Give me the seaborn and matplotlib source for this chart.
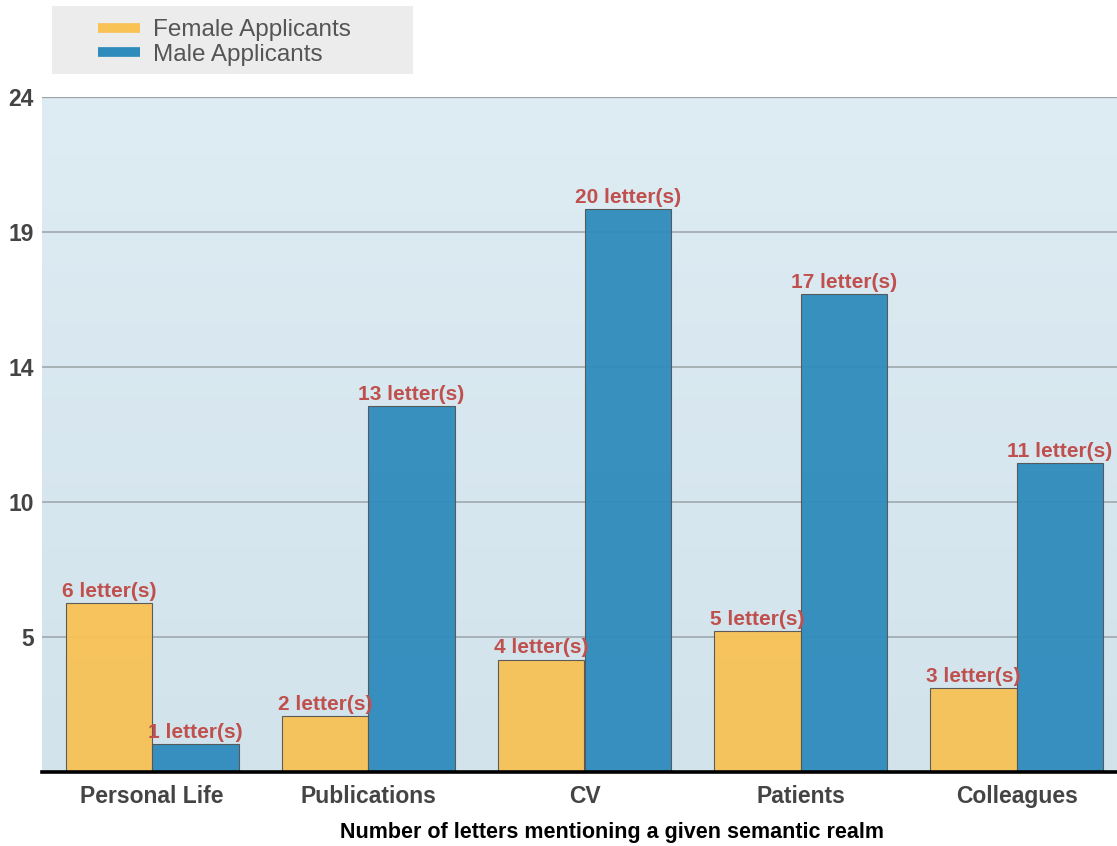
import numpy as np
import pandas as pd
import matplotlib
matplotlib.use("Agg")
import matplotlib.pyplot as plt
import seaborn as sns
from matplotlib.lines import Line2D
from matplotlib.patches import Rectangle
from matplotlib.colors import LinearSegmentedColormap

categories = ["Personal Life", "Publications", "CV", "Patients", "Colleagues"]
female_values = [6, 2, 4, 5, 3]
male_values = [1, 13, 20, 17, 11]
series_names = ["Female Applicants", "Male Applicants"]
ytick_values = [4.8, 9.6, 14.4, 19.2, 24]
ytick_labels = ["5", "10", "14", "19", "24"]
x_label = "Number of letters mentioning a given semantic realm"

colors = {"Female Applicants": "#f8c255", "Male Applicants": "#2e8bbc"}

df = pd.DataFrame({
    "category": categories * 2,
    "series": [series_names[0]] * len(categories) + [series_names[1]] * len(categories),
    "value": female_values + male_values,
})

sns.set_theme(style="white")
plt.rcParams["font.family"] = ["Liberation Sans", "DejaVu Sans"]

fig = plt.figure(figsize=(11.17, 8.46), dpi=100)
ax = fig.add_axes([42 / 1117, 1 - 772 / 846, (1127 - 42) / 1117, (772 - 97) / 846])

# background gradient
grad = np.linspace(0, 1, 256).reshape(-1, 1)
cmap = LinearSegmentedColormap.from_list("bg", ["#deecf3", "#d2e3ec"])
ax.imshow(grad, extent=[0, 1, 0, 1], transform=ax.transAxes, cmap=cmap,
          aspect="auto", zorder=0, origin="upper")

sns.barplot(data=df, x="category", y="value", hue="series", palette=colors,
            width=0.8, ax=ax, order=categories, hue_order=series_names,
            legend=False, saturation=1, alpha=0.95, edgecolor="#555555",
            linewidth=0.8, zorder=3)

ax.set_xlim(-0.51, 4.51)
ax.set_ylim(0, 24)
ax.set_yticks(ytick_values)
ax.set_yticklabels(ytick_labels)
for y in ytick_values:
    ax.axhline(y, color="#9aa3a8", lw=1.1 if y < 24 else 1.6, zorder=1)

for sp in ["left", "right", "top"]:
    ax.spines[sp].set_visible(False)
ax.spines["bottom"].set_color("black")
ax.spines["bottom"].set_linewidth(2.6)
ax.spines["bottom"].set_zorder(5)

ax.tick_params(axis="y", length=0, pad=6, labelsize=16.5, labelcolor="#444444")
ax.tick_params(axis="x", direction="in", length=5, width=2, color="black",
               pad=9, labelsize=16.5, labelcolor="#444444")
for lbl in ax.get_xticklabels() + ax.get_yticklabels():
    lbl.set_fontweight("bold")

ax.set_xlabel(x_label, fontsize=15.5, fontweight="bold", color="black")
ax.xaxis.set_label_coords((612 - 42) / 1085, -(832 - 772) / 675)
ax.xaxis.label.set_va("center")
ax.set_ylabel("")

for cont in ax.containers:
    for bar in cont:
        h = bar.get_height()
        ax.annotate(f"{int(round(h))} letter(s)",
                    (bar.get_x() + bar.get_width() / 2, h),
                    xytext=(0, 1.5), textcoords="offset points",
                    ha="center", va="bottom", fontsize=15, fontweight="bold",
                    color="#c0504d", zorder=6)

# legend
fig.patches.append(Rectangle((52 / 1117, 1 - 74 / 846), (413 - 52) / 1117, (74 - 6) / 846,
                             transform=fig.transFigure, facecolor="#ececec",
                             edgecolor="none", zorder=0))
handles = [Line2D([0], [0], color=colors[s], lw=7, solid_capstyle="butt") for s in series_names]
leg = fig.legend(handles, series_names, loc="upper left",
                 bbox_to_anchor=(81 / 1117, 1 - 2 / 846), frameon=False,
                 fontsize=17.5, handlelength=1.73, handletextpad=0.53,
                 labelspacing=0.12, borderpad=0.2)
for t in leg.get_texts():
    t.set_color("#555555")

fig.savefig("out.png", dpi=100)
